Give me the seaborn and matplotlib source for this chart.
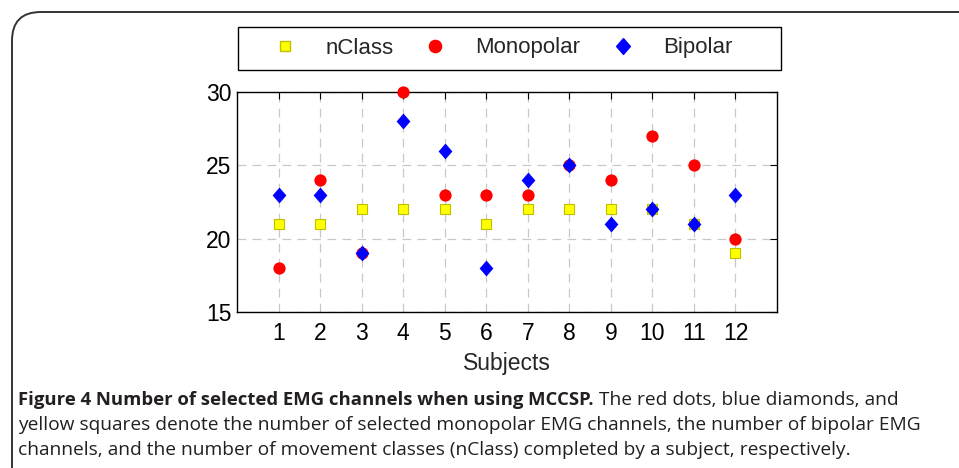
import numpy as np
import pandas as pd
import matplotlib
matplotlib.use('Agg')
import matplotlib.pyplot as plt
import matplotlib.patches as mpatches
from matplotlib.lines import Line2D
import seaborn as sns

subjects = [1, 2, 3, 4, 5, 6, 7, 8, 9, 10, 11, 12]
nclass = [21, 21, 22, 22, 22, 21, 22, 22, 22, 22, 21, 19]
monopolar = [18, 24, 19, 30, 23, 23, 23, 25, 24, 27, 25, 20]
bipolar = [23, 23, 19, 28, 26, 18, 24, 25, 21, 22, 21, 23]
series_names = ['nClass', 'Monopolar', 'Bipolar']

caption_bold = 'Figure 4 Number of selected EMG channels when using MCCSP.'
caption_lines = [
    ' The red dots, blue diamonds, and',
    'yellow squares denote the number of selected monopolar EMG channels, the number of bipolar EMG',
    'channels, and the number of movement classes (nClass) completed by a subject, respectively.',
]

sns.set_style('white')
plt.rcParams['font.family'] = ['Liberation Sans', 'DejaVu Sans']

data = pd.DataFrame({'Subject': subjects, 'nClass': nclass,
                     'Monopolar': monopolar, 'Bipolar': bipolar})

# slightly narrow diamond like the original
diamond = [(0, 1), (0.87, 0), (0, -1), (-0.87, 0), (0, 1)]

fig = plt.figure(figsize=(9.59, 4.68), dpi=100)
ax = fig.add_axes([237 / 959, 1 - 312 / 468, 540 / 959, 220 / 468])

# rounded frame around the whole figure (runs off right and bottom)
frame = mpatches.FancyBboxPatch((12 / 959, -0.2), 1.2, 1.2 - 12 / 468,
                                boxstyle='round,pad=0,rounding_size=0.03',
                                transform=fig.transFigure, fill=False,
                                edgecolor='#333333', linewidth=1.4,
                                mutation_aspect=959 / 468)
fig.patches.append(frame)

sns.scatterplot(data=data, x='Subject', y='nClass', marker='s', s=58,
                color='#ffff00', edgecolor='#c0c000', linewidth=0.8, ax=ax,
                zorder=3, clip_on=False)
sns.scatterplot(data=data, x='Subject', y='Monopolar', marker='o', s=78,
                color='#ff0000', edgecolor='#ff0000', linewidth=0, ax=ax,
                zorder=4, clip_on=False)
sns.scatterplot(data=data, x='Subject', y='Bipolar', marker=diamond, s=130,
                color='#0000ff', edgecolor='#0000ff', linewidth=0, ax=ax,
                zorder=5, clip_on=False)

ax.set_xlim(0, 13)
ax.set_ylim(15, 30)
ax.set_xticks(subjects)
ax.set_yticks([15, 20, 25, 30])
ax.tick_params(direction='in', length=5, width=0.8, top=True, right=True,
               labelsize=16.5, colors='black')
ax.tick_params(axis='y', pad=4)
ax.tick_params(axis='x', pad=7)
ax.grid(True, linestyle=(0, (7, 5)), color='#c8c8c8', linewidth=0.9)
for side in ax.spines.values():
    side.set_color('black')
    side.set_linewidth(1.0)
ax.set_xlabel('Subjects', fontsize=16.5, labelpad=5)
ax.set_ylabel('')

handles = [
    Line2D([], [], linestyle='none', marker='s', markersize=7.6,
           markerfacecolor='#ffff00', markeredgecolor='#c0c000'),
    Line2D([], [], linestyle='none', marker='o', markersize=8.8,
           markerfacecolor='#ff0000', markeredgecolor='#ff0000'),
    Line2D([], [], linestyle='none', marker=diamond, markersize=11.4,
           markerfacecolor='#0000ff', markeredgecolor='#0000ff'),
]
leg = fig.legend(handles, series_names, ncol=3, loc='center left',
                 bbox_to_anchor=(274 / 959, 1 - 48 / 468),
                 bbox_transform=fig.transFigure, fontsize=16, frameon=False,
                 handlelength=1.0, handletextpad=1.3, columnspacing=1.4,
                 borderaxespad=0, borderpad=0)
legend_box = mpatches.Rectangle((238 / 959, 1 - 70 / 468), 543 / 959, 43 / 468,
                                transform=fig.transFigure, fill=False,
                                edgecolor='black', linewidth=1.0)
fig.patches.append(legend_box)

cap_font = ['Open Sans', 'DejaVu Sans']
t = fig.text(18 / 959, 1 - 400 / 468, caption_bold, fontsize=13.3,
             fontweight='bold', family=cap_font, color='#231f20', va='center')
fig.canvas.draw()
bb = t.get_window_extent(fig.canvas.get_renderer())
fig.text(bb.x1 / fig.bbox.width, 1 - 400 / 468, caption_lines[0],
         fontsize=13.8, family=cap_font, color='#231f20', va='center')
fig.text(18 / 959, 1 - 425 / 468, caption_lines[1], fontsize=13.8,
         family=cap_font, color='#231f20', va='center')
fig.text(18 / 959, 1 - 450 / 468, caption_lines[2], fontsize=13.8,
         family=cap_font, color='#231f20', va='center')

fig.savefig('out.png', dpi=100)
